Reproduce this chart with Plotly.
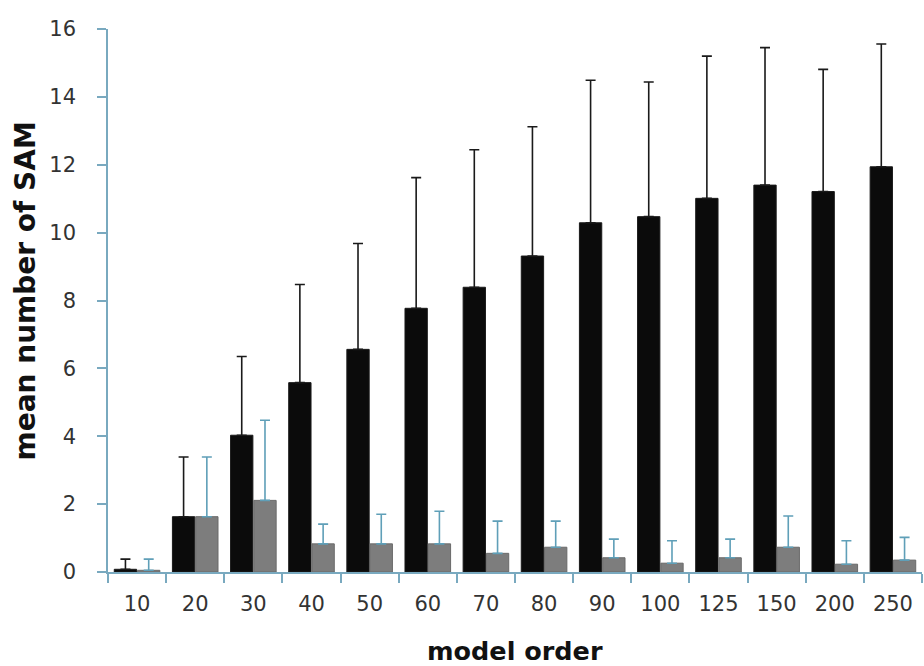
import plotly.graph_objects as go

categories = ["10", "20", "30", "40", "50", "60", "70", "80", "90", "100", "125", "150", "200", "250"]
black_values = [0.08, 1.63, 4.03, 5.58, 6.56, 7.77, 8.39, 9.31, 10.29, 10.47, 11.01, 11.40, 11.21, 11.94]
black_err = [0.30, 1.76, 2.32, 2.89, 3.12, 3.85, 4.05, 3.81, 4.20, 3.97, 4.19, 4.05, 3.60, 3.62]
gray_values = [0.05, 1.63, 2.11, 0.83, 0.83, 0.83, 0.55, 0.73, 0.42, 0.26, 0.42, 0.73, 0.23, 0.35]
gray_err = [0.33, 1.76, 2.36, 0.58, 0.87, 0.96, 0.95, 0.77, 0.55, 0.66, 0.55, 0.92, 0.69, 0.67]
y_ticks = [0, 2, 4, 6, 8, 10, 12, 14, 16]

axis_col = "#79a9bf"
font_fam = "'DejaVu Sans', sans-serif"

fig = go.Figure()
fig.add_trace(go.Bar(
    x=categories, y=black_values,
    marker=dict(color="#0b0b0b", line=dict(color="#1a1a1a", width=1)),
    error_y=dict(type="data", array=black_err, symmetric=False,
                 arrayminus=[0] * len(black_err),
                 color="#1a1a1a", thickness=1.6, width=5),
    showlegend=False,
))
fig.add_trace(go.Bar(
    x=categories, y=gray_values,
    marker=dict(color="#7d7d7d", line=dict(color="#6a6a6a", width=1)),
    error_y=dict(type="data", array=gray_err, symmetric=False,
                 arrayminus=[0] * len(gray_err),
                 color="#5f9fb8", thickness=1.6, width=5),
    showlegend=False,
))

fig.update_layout(
    width=924, height=666,
    margin=dict(l=108, r=2, t=29, b=94),
    paper_bgcolor="white", plot_bgcolor="white",
    barmode="group", bargap=0.2, bargroupgap=0.04,
    font=dict(family=font_fam, color="#333333"),
    xaxis=dict(
        type="category", showgrid=False, showline=True, linecolor=axis_col, linewidth=1.5,
        ticks="outside", tickson="boundaries", ticklen=9, tickcolor=axis_col, tickwidth=1.5,
        tickfont=dict(size=21, color="#333333"), ticklabelstandoff=12,
    ),
    yaxis=dict(
        range=[0, 16], tickvals=y_ticks, showgrid=False, zeroline=False,
        showline=True, linecolor=axis_col, linewidth=1.5,
        ticks="outside", ticklen=9, tickcolor=axis_col, tickwidth=1.5,
        tickfont=dict(size=21, color="#333333"), ticklabelstandoff=17,
    ),
    annotations=[
        dict(text="<b>model order</b>", xref="paper", yref="paper", x=0.5, y=0,
             yshift=-79, xanchor="center", yanchor="middle", showarrow=False,
             font=dict(size=25.5, color="#111111", family=font_fam)),
        dict(text="<b>mean number of SAM</b>", xref="paper", yref="paper", x=0, y=0.5,
             xshift=-83, yshift=9, xanchor="center", yanchor="middle", textangle=-90, showarrow=False,
             font=dict(size=28, color="#111111", family=font_fam)),
    ],
)

fig.write_html("out.html", config={"displayModeBar": False},
               post_script="document.body.style.margin='0';document.body.style.overflow='hidden';")
